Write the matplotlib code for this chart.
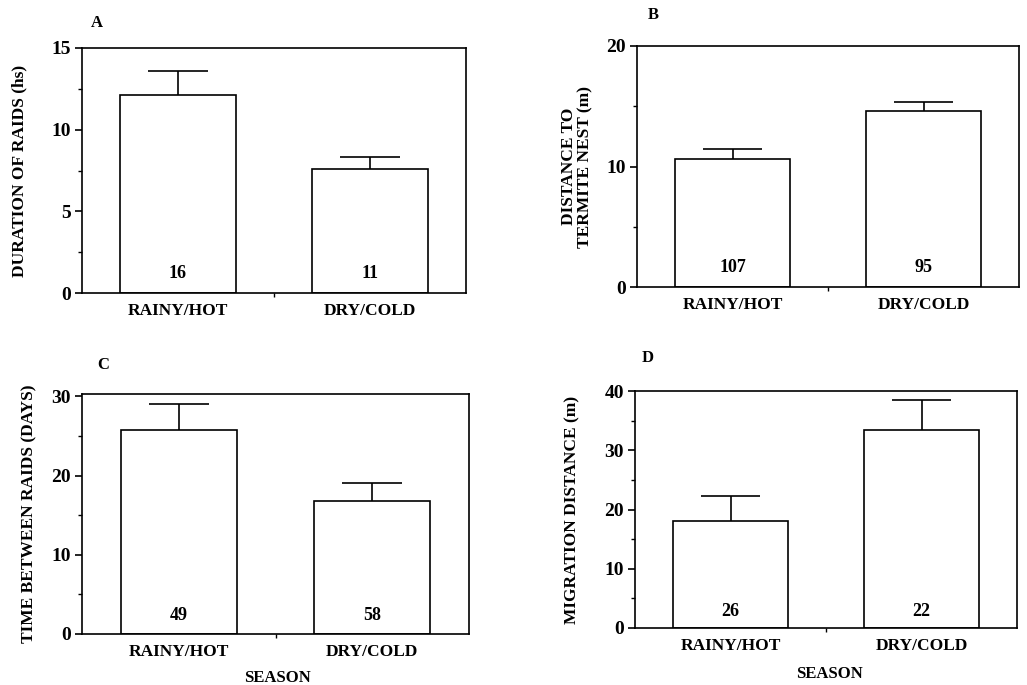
import matplotlib
matplotlib.use("Agg")
import matplotlib.pyplot as plt
from matplotlib.ticker import MultipleLocator, FixedLocator

plt.rcParams['font.family'] = ['Liberation Serif', 'DejaVu Serif']
plt.rcParams['font.weight'] = 'bold'

categories = ["RAINY/HOT", "DRY/COLD"]

duration_means = [12.1, 7.6]
duration_err = [1.5, 0.7]
duration_n = ["16", "11"]

distance_means = [10.6, 14.6]
distance_err = [0.85, 0.75]
distance_n = ["107", "95"]

time_means = [25.8, 16.8]
time_err = [3.3, 2.3]
time_n = ["49", "58"]

migration_means = [18.0, 33.4]
migration_err = [4.2, 5.1]
migration_n = ["26", "22"]

panels = [
    dict(letter="A", rect=[82, 48, 466, 293], means=duration_means, err=duration_err, n=duration_n,
         ylim=15, major=5, minor=2.5, ylabel="DURATION OF RAIDS (hs)", ylx=-0.141,
         letter_xy=(97, 23), season=False, n_off=20),
    dict(letter="B", rect=[637, 46, 1019, 287], means=distance_means, err=distance_err, n=distance_n,
         ylim=20, major=10, minor=5, ylabel="DISTANCE TO\nTERMITE NEST (m)", ylx=-0.115,
         letter_xy=(653, 15), season=False, n_off=19),
    dict(letter="C", rect=[82, 394, 469, 634], means=time_means, err=time_err, n=time_n,
         ylim=30.3, major=10, minor=5, ylabel="TIME BETWEEN RAIDS (DAYS)", ylx=-0.116,
         letter_xy=(103, 365), season=True, season_xy=(277, 678), n_off=19),
    dict(letter="D", rect=[635, 391, 1017, 628], means=migration_means, err=migration_err, n=migration_n,
         ylim=40, major=10, minor=5, ylabel="MIGRATION DISTANCE (m)", ylx=-0.144,
         letter_xy=(648, 358), season=True, season_xy=(829, 674), n_off=16),
]

W, H = 1027, 685
fig = plt.figure(figsize=(W / 100, H / 100), dpi=100)

for p in panels:
    l, t, r, b = p["rect"]
    ax = fig.add_axes([l / W, (H - b) / H, (r - l) / W, (b - t) / H])
    x = [0, 1]
    ax.bar(x, p["means"], width=0.6, color="white", edgecolor="black", linewidth=1.2, zorder=2)
    tops = [m + e for m, e in zip(p["means"], p["err"])]
    ax.vlines(x, p["means"], tops, color="black", linewidth=1.2, zorder=3)
    ax.hlines(tops, [xi - 0.155 for xi in x], [xi + 0.155 for xi in x], color="black", linewidth=1.2, zorder=3)
    ax.set_xlim(-0.5, 1.5)
    ax.set_ylim(0, p["ylim"])
    ax.yaxis.set_major_locator(FixedLocator([i * p["major"] for i in range(int(p["ylim"] // p["major"]) + 1)]))
    ax.yaxis.set_minor_locator(MultipleLocator(p["minor"]))
    ax.set_xticks(x)
    ax.set_xticklabels(categories, fontsize=12.5, fontweight="bold")
    ax.xaxis.set_minor_locator(FixedLocator([0.5]))
    ax.tick_params(axis="x", which="major", length=0, pad=7)
    ax.tick_params(axis="x", which="minor", length=3, direction="out", width=1)
    ax.tick_params(axis="y", which="major", length=5, direction="out", width=1.2, labelsize=14, pad=3)
    ax.tick_params(axis="y", which="minor", length=3, direction="out", width=1)
    for lab in ax.get_yticklabels():
        lab.set_fontweight("bold")
    for s in ax.spines.values():
        s.set_linewidth(1.2)
    ax.set_ylabel(p["ylabel"], fontsize=12.5, fontweight="bold", linespacing=1.0)
    ax.yaxis.set_label_coords(p["ylx"], 0.5)
    for xi, nlab in zip(x, p["n"]):
        ax.annotate(nlab, xy=(xi, 0), xycoords="data", xytext=(0, p["n_off"] * 0.72),
                    textcoords="offset points", ha="center", va="center",
                    fontsize=13, fontweight="bold", zorder=4)
    fig.text(p["letter_xy"][0] / W, 1 - p["letter_xy"][1] / H, p["letter"],
             ha="center", va="center", fontsize=12, fontweight="bold")
    if p["season"]:
        fig.text(p["season_xy"][0] / W, 1 - p["season_xy"][1] / H, "SEASON",
                 ha="center", va="center", fontsize=12, fontweight="bold")

fig.savefig("out.png", dpi=100)
